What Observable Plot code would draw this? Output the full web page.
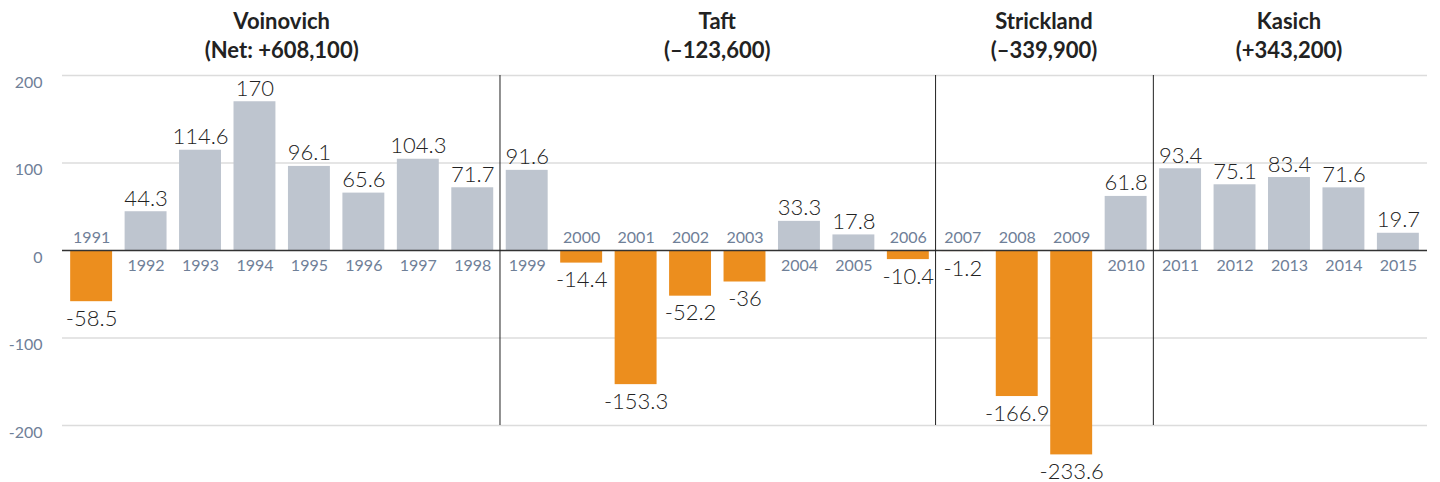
<!DOCTYPE html>
<html><head><meta charset="utf-8">
<script src="https://cdn.jsdelivr.net/npm/d3@7"></script>
<script src="https://cdn.jsdelivr.net/npm/@observablehq/plot@0.6"></script>
<style>body{margin:0;background:#fff;font-family:Lato,sans-serif}</style>
</head><body><div id="chart"></div><script>
const years = [1991,1992,1993,1994,1995,1996,1997,1998,1999,2000,2001,2002,2003,2004,2005,2006,2007,2008,2009,2010,2011,2012,2013,2014,2015];
const values = [-58.5,44.3,114.6,170,96.1,65.6,104.3,71.7,91.6,-14.4,-153.3,-52.2,-36,33.3,17.8,-10.4,-1.2,-166.9,-233.6,61.8,93.4,75.1,83.4,71.6,19.7];
const governors = ["Voinovich","Taft","Strickland","Kasich"];
const netLabels = ["(Net: +608,100)","(–123,600)","(–339,900)","(+343,200)"];
const termStart = [1991,1999,2007,2011];
const termEnd = [1998,2006,2010,2015];
const yTicks = [-200,-100,0,100,200];

const data = years.map((y,i)=>({year:y, value:values[i]}));
const pos = data.filter(d=>d.value>=0);
const neg = data.filter(d=>d.value<0);

const W=1440, H=482, ml=62, mr=13;
const pIn=0.23, pOut=0.15;
const band = d3.scaleBand().domain(years).range([ml, W-mr]).paddingInner(pIn).paddingOuter(pOut);
const step = band.step();

const chart = Plot.plot({
  width:W, height:H, marginLeft:ml, marginRight:mr, marginTop:40, marginBottom:4.5,
  style:{fontFamily:"Lato, sans-serif", background:"#fff", overflow:"visible"},
  x:{type:"band", domain:years, paddingInner:pIn, paddingOuter:pOut, round:false, axis:null},
  y:{domain:[-260,240], axis:null},
  marks:[
    Plot.ruleY(yTicks.filter(t=>t!==0), {stroke:"#dcdcdc", strokeWidth:1.5}),
    Plot.barY(pos, {x:"year", y:"value", fill:"#bec5cf"}),
    Plot.barY(neg, {x:"year", y:"value", fill:"#ec8e1e"}),
    Plot.ruleY([0], {stroke:"#333", strokeWidth:1.5}),
    Plot.ruleX(termStart.slice(1), {x:d=>d, y1:-200, y2:200, dx:-step/2, stroke:"#222", strokeWidth:1}),
    Plot.text(pos, {x:"year", y:0, text:d=>String(d.year), dy:15, fill:"#6f8098", fontSize:16, fontWeight:400}),
    Plot.text(neg, {x:"year", y:0, text:d=>String(d.year), dy:-13, fill:"#6f8098", fontSize:16, fontWeight:400}),
    Plot.text(pos, {x:"year", y:"value", text:d=>String(d.value), dy:-13, fill:"#222", fontSize:22, fontWeight:300}),
    Plot.text(neg, {x:"year", y:"value", text:d=>String(d.value), dy:17, fill:"#222", fontSize:22, fontWeight:300}),
    Plot.axisY({ticks:yTicks, tickSize:0, tickPadding:20, fill:"#6f8098", fontSize:16, fontWeight:400, dy:7, tickFormat:d=>String(d), label:null})
  ]
});

const xs = chart.scale("x");
const svg = d3.select(chart);
governors.forEach((g,i)=>{
  const cx = (xs.apply(termStart[i]) + xs.apply(termEnd[i]) + xs.bandwidth)/2;
  const t = svg.append("text").attr("x",cx).attr("text-anchor","middle")
    .attr("fill","#222").attr("font-size",22).attr("font-weight",700)
    .attr("font-family","Lato, sans-serif");
  t.append("tspan").attr("x",cx).attr("y",29).text(g);
  t.append("tspan").attr("x",cx).attr("y",58).text(netLabels[i]);
});
document.getElementById("chart").appendChild(chart);
</script></body></html>
